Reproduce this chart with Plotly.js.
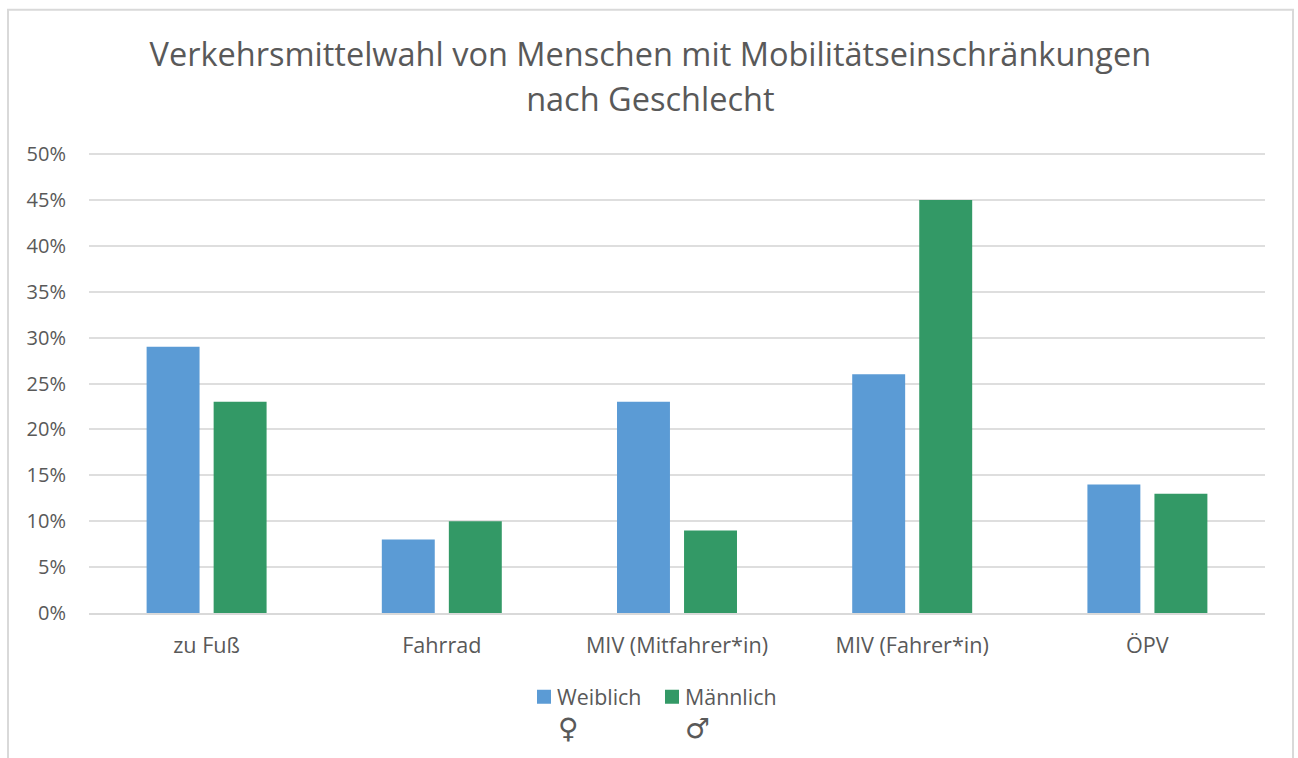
<!DOCTYPE html>
<html><head><meta charset="utf-8">
<script src="https://cdn.plot.ly/plotly-3.0.1.min.js"></script>
<style>html,body{margin:0;padding:0;background:#fff}</style></head>
<body><div id="c" style="width:1298px;height:758px"></div>
<script>
const categories=["zu Fuß","Fahrrad","MIV (Mitfahrer*in)","MIV (Fahrer*in)","ÖPV"];
const weiblich=[0.29,0.08,0.23,0.26,0.14];
const maennlich=[0.23,0.10,0.09,0.45,0.13];
const seriesNames=["Weiblich","Männlich"];
const genderGlyphs=["♀","♂"];
const font="'Open Sans','Noto Sans',sans-serif";
const L=89,R=33,T=151.5,B=144.5,W=1298,H=758,PW=W-L-R,PH=H-T-B;
const px=x=>(x-L)/PW, py=y=>(H-B-y)/PH;
Plotly.newPlot('c',[
 {type:'bar',name:seriesNames[0],x:categories,y:weiblich,marker:{color:'#5B9BD5'}},
 {type:'bar',name:seriesNames[1],x:categories,y:maennlich,marker:{color:'#339966'}}
],{
 width:W,height:H,paper_bgcolor:'#fff',plot_bgcolor:'#fff',
 font:{family:font,color:'#595959',size:20},
 title:{text:'Verkehrsmittelwahl von Menschen mit Mobilitätseinschränkungen<br>nach Geschlecht',font:{size:32.5,color:'#595959',family:font},x:0.501,xanchor:'center',xref:'container',y:0.913,yanchor:'middle'},
 margin:{l:L,r:R,t:T,b:B},
 barmode:'group',bargap:0.43,bargroupgap:0.21,
 xaxis:{type:'category',tickfont:{size:21.6},ticks:'outside',ticklen:12,tickcolor:'rgba(0,0,0,0)',showline:true,linecolor:'#d9d9d9',linewidth:2,fixedrange:true},
 yaxis:{range:[0,0.50217],tickvals:[0,0.05,0.1,0.15,0.2,0.25,0.3,0.35,0.4,0.45,0.5],tickformat:'.0%',gridcolor:'#dedede',gridwidth:2,zeroline:false,ticks:'outside',ticklen:18,tickcolor:'rgba(0,0,0,0)',tickfont:{size:20}},
 showlegend:true,
 legend:{orientation:'h',x:px(652),xanchor:'center',y:py(677),yanchor:'top',font:{size:21.4},entrywidth:83,entrywidthmode:'pixels'},
 annotations:[
  {xref:'paper',yref:'paper',x:px(568),y:py(729),yanchor:'middle',xanchor:'center',text:genderGlyphs[0],showarrow:false,font:{family:'DejaVu Sans',size:28,color:'#595959'}},
  {xref:'paper',yref:'paper',x:px(697),y:py(729),yanchor:'middle',xanchor:'center',text:genderGlyphs[1],showarrow:false,font:{family:'DejaVu Sans',size:28,color:'#595959'}}
 ],
 shapes:[{type:'rect',layer:'below',xref:'paper',yref:'paper',x0:px(8),x1:px(1293),y0:py(780),y1:py(9),line:{width:2,color:'#d9d9d9'},fillcolor:'rgba(0,0,0,0)'}]
},{displayModeBar:false,staticPlot:true}).then(()=>{
 document.querySelectorAll('.legendpoints path').forEach(p=>p.setAttribute('d','M7,7H-7V-7H7Z'));
 document.querySelectorAll('.legendtext').forEach(t=>t.setAttribute('x','33'));
 const lines=document.querySelectorAll('.gtitle tspan.line');
 if(lines[1])lines[1].setAttribute('dy','1.385em');
});
</script></body></html>
